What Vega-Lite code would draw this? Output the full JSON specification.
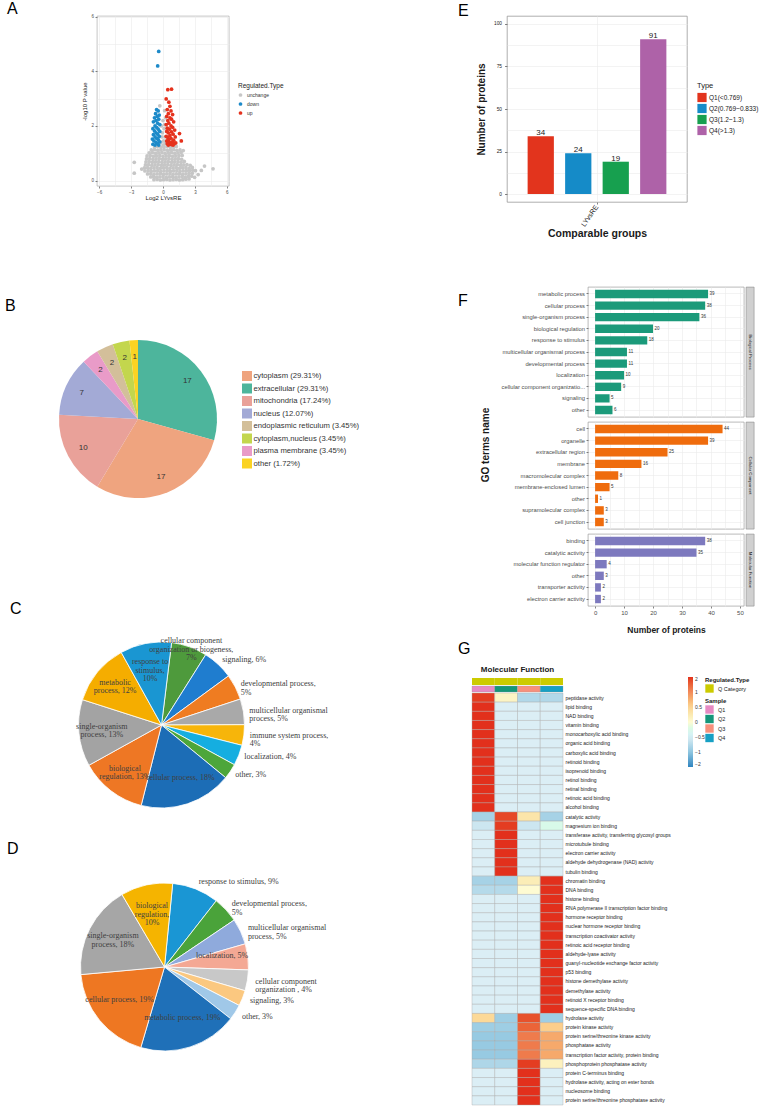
{
"$schema":"https://vega.github.io/schema/vega-lite/v6.json",
"background":"white",
"padding":{"left":5,"top":0,"right":0,"bottom":0},
"datasets":{
"volcano":[
{"x":-0.85,"y":0.03,"t":"unchange"},{"x":-0.55,"y":0.04,"t":"unchange"},{"x":-0.25,"y":0.02,"t":"unchange"},{"x":0.05,"y":0.03,"t":"unchange"},{"x":0.35,"y":0.04,"t":"unchange"},{"x":0.65,"y":0.02,"t":"unchange"},{"x":0.95,"y":0.03,"t":"unchange"},{"x":1.25,"y":0.04,"t":"unchange"},{"x":1.55,"y":0.02,"t":"unchange"},{"x":1.85,"y":0.03,"t":"unchange"},{"x":2.15,"y":0.05,"t":"unchange"},{"x":2.45,"y":0.06,"t":"unchange"},
{"x":-1.15,"y":0.13,"t":"unchange"},{"x":-0.9,"y":0.14,"t":"unchange"},{"x":-0.6,"y":0.12,"t":"unchange"},{"x":-0.3,"y":0.13,"t":"unchange"},{"x":0,"y":0.14,"t":"unchange"},{"x":0.3,"y":0.12,"t":"unchange"},{"x":0.6,"y":0.13,"t":"unchange"},{"x":0.9,"y":0.14,"t":"unchange"},{"x":1.2,"y":0.12,"t":"unchange"},{"x":1.5,"y":0.13,"t":"unchange"},{"x":1.8,"y":0.14,"t":"unchange"},{"x":2.1,"y":0.12,"t":"unchange"},{"x":2.4,"y":0.15,"t":"unchange"},{"x":2.7,"y":0.16,"t":"unchange"},{"x":2.97,"y":0.12,"t":"unchange"},
{"x":-1.45,"y":0.24,"t":"unchange"},{"x":-1.15,"y":0.25,"t":"unchange"},{"x":-0.85,"y":0.23,"t":"unchange"},{"x":-0.55,"y":0.24,"t":"unchange"},{"x":-0.25,"y":0.25,"t":"unchange"},{"x":0.05,"y":0.23,"t":"unchange"},{"x":0.35,"y":0.24,"t":"unchange"},{"x":0.65,"y":0.25,"t":"unchange"},{"x":0.95,"y":0.23,"t":"unchange"},{"x":1.25,"y":0.24,"t":"unchange"},{"x":1.55,"y":0.25,"t":"unchange"},{"x":1.85,"y":0.23,"t":"unchange"},{"x":2.15,"y":0.24,"t":"unchange"},{"x":2.45,"y":0.26,"t":"unchange"},{"x":2.75,"y":0.27,"t":"unchange"},
{"x":-1.7,"y":0.35,"t":"unchange"},{"x":-1.4,"y":0.36,"t":"unchange"},{"x":-1.1,"y":0.34,"t":"unchange"},{"x":-0.8,"y":0.35,"t":"unchange"},{"x":-0.5,"y":0.36,"t":"unchange"},{"x":-0.2,"y":0.34,"t":"unchange"},{"x":0.1,"y":0.35,"t":"unchange"},{"x":0.4,"y":0.36,"t":"unchange"},{"x":0.7,"y":0.34,"t":"unchange"},{"x":1,"y":0.35,"t":"unchange"},{"x":1.3,"y":0.36,"t":"unchange"},{"x":1.6,"y":0.34,"t":"unchange"},{"x":1.9,"y":0.35,"t":"unchange"},{"x":2.2,"y":0.36,"t":"unchange"},{"x":2.5,"y":0.37,"t":"unchange"},{"x":2.8,"y":0.38,"t":"unchange"},{"x":3.05,"y":0.36,"t":"unchange"},
{"x":-1.75,"y":0.46,"t":"unchange"},{"x":-1.45,"y":0.47,"t":"unchange"},{"x":-1.15,"y":0.45,"t":"unchange"},{"x":-0.85,"y":0.46,"t":"unchange"},{"x":-0.55,"y":0.47,"t":"unchange"},{"x":-0.25,"y":0.45,"t":"unchange"},{"x":0.05,"y":0.46,"t":"unchange"},{"x":0.35,"y":0.47,"t":"unchange"},{"x":0.65,"y":0.45,"t":"unchange"},{"x":0.95,"y":0.46,"t":"unchange"},{"x":1.25,"y":0.47,"t":"unchange"},{"x":1.55,"y":0.45,"t":"unchange"},{"x":1.85,"y":0.46,"t":"unchange"},{"x":2.15,"y":0.47,"t":"unchange"},{"x":2.45,"y":0.45,"t":"unchange"},{"x":2.75,"y":0.48,"t":"unchange"},
{"x":-1.65,"y":0.57,"t":"unchange"},{"x":-1.35,"y":0.58,"t":"unchange"},{"x":-1.05,"y":0.56,"t":"unchange"},{"x":-0.75,"y":0.57,"t":"unchange"},{"x":-0.45,"y":0.58,"t":"unchange"},{"x":-0.15,"y":0.56,"t":"unchange"},{"x":0.15,"y":0.57,"t":"unchange"},{"x":0.45,"y":0.58,"t":"unchange"},{"x":0.75,"y":0.56,"t":"unchange"},{"x":1.05,"y":0.57,"t":"unchange"},{"x":1.35,"y":0.58,"t":"unchange"},{"x":1.65,"y":0.56,"t":"unchange"},{"x":1.95,"y":0.57,"t":"unchange"},{"x":2.25,"y":0.58,"t":"unchange"},{"x":2.55,"y":0.56,"t":"unchange"},
{"x":-1.6,"y":0.68,"t":"unchange"},{"x":-1.3,"y":0.69,"t":"unchange"},{"x":-1,"y":0.67,"t":"unchange"},{"x":-0.7,"y":0.68,"t":"unchange"},{"x":-0.4,"y":0.69,"t":"unchange"},{"x":-0.1,"y":0.67,"t":"unchange"},{"x":0.2,"y":0.68,"t":"unchange"},{"x":0.5,"y":0.69,"t":"unchange"},{"x":0.8,"y":0.67,"t":"unchange"},{"x":1.1,"y":0.68,"t":"unchange"},{"x":1.4,"y":0.69,"t":"unchange"},{"x":1.7,"y":0.67,"t":"unchange"},{"x":2,"y":0.7,"t":"unchange"},
{"x":-1.55,"y":0.79,"t":"unchange"},{"x":-1.25,"y":0.8,"t":"unchange"},{"x":-0.95,"y":0.78,"t":"unchange"},{"x":-0.65,"y":0.79,"t":"unchange"},{"x":-0.35,"y":0.8,"t":"unchange"},{"x":-0.05,"y":0.78,"t":"unchange"},{"x":0.25,"y":0.79,"t":"unchange"},{"x":0.55,"y":0.8,"t":"unchange"},{"x":0.85,"y":0.78,"t":"unchange"},{"x":1.15,"y":0.79,"t":"unchange"},{"x":1.45,"y":0.8,"t":"unchange"},{"x":1.75,"y":0.78,"t":"unchange"},
{"x":-1.5,"y":0.9,"t":"unchange"},{"x":-1.2,"y":0.91,"t":"unchange"},{"x":-0.9,"y":0.89,"t":"unchange"},{"x":-0.6,"y":0.9,"t":"unchange"},{"x":-0.3,"y":0.91,"t":"unchange"},{"x":0,"y":0.89,"t":"unchange"},{"x":0.3,"y":0.9,"t":"unchange"},{"x":0.6,"y":0.91,"t":"unchange"},{"x":0.9,"y":0.89,"t":"unchange"},{"x":1.2,"y":0.9,"t":"unchange"},{"x":1.5,"y":0.91,"t":"unchange"},{"x":1.8,"y":0.92,"t":"unchange"},
{"x":-1.3,"y":1.01,"t":"unchange"},{"x":-1,"y":1.02,"t":"unchange"},{"x":-0.7,"y":1,"t":"unchange"},{"x":-0.4,"y":1.01,"t":"unchange"},{"x":-0.1,"y":1.02,"t":"unchange"},{"x":0.2,"y":1,"t":"unchange"},{"x":0.5,"y":1.01,"t":"unchange"},{"x":0.8,"y":1.02,"t":"unchange"},{"x":1.1,"y":1,"t":"unchange"},{"x":1.4,"y":1.01,"t":"unchange"},{"x":1.7,"y":1.03,"t":"unchange"},
{"x":-1.1,"y":1.12,"t":"unchange"},{"x":-0.8,"y":1.13,"t":"unchange"},{"x":-0.5,"y":1.11,"t":"unchange"},{"x":-0.2,"y":1.12,"t":"unchange"},{"x":0.1,"y":1.13,"t":"unchange"},{"x":0.4,"y":1.11,"t":"unchange"},{"x":0.7,"y":1.12,"t":"unchange"},{"x":1,"y":1.13,"t":"unchange"},{"x":1.3,"y":1.11,"t":"unchange"},{"x":1.6,"y":1.12,"t":"unchange"},
{"x":-0.8,"y":1.23,"t":"unchange"},{"x":-0.5,"y":1.24,"t":"unchange"},{"x":-0.2,"y":1.22,"t":"unchange"},{"x":0.1,"y":1.23,"t":"unchange"},{"x":0.4,"y":1.24,"t":"unchange"},{"x":0.7,"y":1.22,"t":"unchange"},{"x":1,"y":1.23,"t":"unchange"},{"x":1.25,"y":1.25,"t":"unchange"},
{"x":-2.7,"y":0.67,"t":"unchange"},{"x":-2.7,"y":0.27,"t":"unchange"},{"x":-2.0,"y":0.42,"t":"unchange"},{"x":3.3,"y":0.22,"t":"unchange"},{"x":3.6,"y":0.37,"t":"unchange"},{"x":3.9,"y":0.53,"t":"unchange"},{"x":4.7,"y":0.43,"t":"unchange"},{"x":1.9,"y":1.1,"t":"unchange"},
{"x":-0.3,"y":2.74,"t":"unchange"},{"x":0.15,"y":2.56,"t":"unchange"},{"x":0,"y":2.2,"t":"unchange"},{"x":0.1,"y":1.9,"t":"unchange"},{"x":-0.1,"y":1.6,"t":"unchange"},{"x":0.05,"y":1.45,"t":"unchange"},{"x":0.2,"y":1.35,"t":"unchange"},{"x":-0.2,"y":1.4,"t":"unchange"},{"x":0.15,"y":2.05,"t":"unchange"},{"x":-0.05,"y":1.75,"t":"unchange"},{"x":0.2,"y":1.6,"t":"unchange"},{"x":0.25,"y":2.3,"t":"unchange"},{"x":-0.15,"y":2.0,"t":"unchange"},{"x":0,"y":1.3,"t":"unchange"},
{"x":-0.4,"y":4.73,"t":"down"},{"x":-0.5,"y":4.2,"t":"down"},
{"x":-0.6,"y":2.6,"t":"down"},{"x":-0.45,"y":2.55,"t":"down"},{"x":-0.7,"y":2.45,"t":"down"},{"x":-0.35,"y":2.4,"t":"down"},{"x":-0.55,"y":2.35,"t":"down"},{"x":-0.8,"y":2.3,"t":"down"},{"x":-0.4,"y":2.25,"t":"down"},{"x":-0.65,"y":2.2,"t":"down"},{"x":-0.9,"y":2.15,"t":"down"},{"x":-0.5,"y":2.1,"t":"down"},{"x":-0.3,"y":2.05,"t":"down"},{"x":-0.75,"y":2.0,"t":"down"},{"x":-0.6,"y":1.95,"t":"down"},{"x":-0.95,"y":1.9,"t":"down"},{"x":-0.45,"y":1.88,"t":"down"},{"x":-0.8,"y":1.82,"t":"down"},{"x":-0.3,"y":1.8,"t":"down"},{"x":-0.65,"y":1.75,"t":"down"},{"x":-0.5,"y":1.7,"t":"down"},{"x":-0.9,"y":1.68,"t":"down"},{"x":-0.35,"y":1.62,"t":"down"},{"x":-0.75,"y":1.6,"t":"down"},{"x":-0.6,"y":1.55,"t":"down"},{"x":-1.0,"y":1.52,"t":"down"},{"x":-0.45,"y":1.5,"t":"down"},{"x":-0.85,"y":1.45,"t":"down"},{"x":-0.3,"y":1.42,"t":"down"},{"x":-0.65,"y":1.4,"t":"down"},{"x":-0.5,"y":1.35,"t":"down"},{"x":-0.95,"y":1.33,"t":"down"},{"x":-0.75,"y":1.3,"t":"down"},{"x":-0.4,"y":1.3,"t":"down"},
{"x":0.45,"y":3.33,"t":"up"},{"x":0.8,"y":3.35,"t":"up"},{"x":0.3,"y":2.99,"t":"up"},{"x":0.55,"y":2.87,"t":"up"},{"x":0.65,"y":2.72,"t":"up"},{"x":0.4,"y":2.6,"t":"up"},{"x":0.75,"y":2.55,"t":"up"},{"x":0.5,"y":2.45,"t":"up"},{"x":0.9,"y":2.42,"t":"up"},{"x":0.35,"y":2.35,"t":"up"},{"x":0.65,"y":2.3,"t":"up"},{"x":0.8,"y":2.25,"t":"up"},{"x":0.45,"y":2.2,"t":"up"},{"x":1.0,"y":2.15,"t":"up"},{"x":0.55,"y":2.1,"t":"up"},{"x":0.3,"y":2.05,"t":"up"},{"x":0.75,"y":2.0,"t":"up"},{"x":0.9,"y":1.95,"t":"up"},{"x":0.4,"y":1.92,"t":"up"},{"x":0.6,"y":1.88,"t":"up"},{"x":1.1,"y":1.85,"t":"up"},{"x":0.35,"y":1.8,"t":"up"},{"x":0.8,"y":1.78,"t":"up"},{"x":0.5,"y":1.75,"t":"up"},{"x":0.95,"y":1.7,"t":"up"},{"x":0.65,"y":1.65,"t":"up"},{"x":0.3,"y":1.62,"t":"up"},{"x":1.15,"y":1.6,"t":"up"},{"x":0.45,"y":1.58,"t":"up"},{"x":0.75,"y":1.55,"t":"up"},{"x":0.55,"y":1.5,"t":"up"},{"x":1.0,"y":1.48,"t":"up"},{"x":0.35,"y":1.45,"t":"up"},{"x":0.85,"y":1.42,"t":"up"},{"x":0.6,"y":1.4,"t":"up"},{"x":1.2,"y":1.38,"t":"up"},{"x":0.4,"y":1.35,"t":"up"},{"x":0.7,"y":1.33,"t":"up"},{"x":0.95,"y":1.3,"t":"up"},{"x":0.5,"y":1.3,"t":"up"},{"x":1.05,"y":1.35,"t":"up"},{"x":0.8,"y":1.32,"t":"up"},{"x":1.55,"y":1.72,"t":"up"},{"x":1.72,"y":1.45,"t":"up"}
],
"loc":[
{"label":"extracellular (29.31%)","n":17},
{"label":"cytoplasm (29.31%)","n":17},
{"label":"mitochondria (17.24%)","n":10},
{"label":"nucleus (12.07%)","n":7},
{"label":"plasma membrane (3.45%)","n":2},
{"label":"endoplasmic reticulum (3.45%)","n":2},
{"label":"cytoplasm,nucleus (3.45%)","n":2},
{"label":"other (1.72%)","n":1}
],
"bpC":[
{"name":"cellular component organization or biogeness","pct":7,"label":"cellular component\norganization or biogeness,\n7%"},
{"name":"signaling","pct":6,"label":"signaling, 6%"},
{"name":"developmental process","pct":5,"label":"developmental process,\n5%"},
{"name":"multicellular organismal process","pct":5,"label":"multicellular organismal\nprocess, 5%"},
{"name":"immune system process","pct":4,"label":"immune system process,\n4%"},
{"name":"localization","pct":4,"label":"localization, 4%"},
{"name":"other","pct":3,"label":"other, 3%"},
{"name":"cellular process","pct":18,"label":"cellular process, 18%"},
{"name":"biological regulation","pct":13,"label":"biological\nregulation, 13%"},
{"name":"single-organism process","pct":13,"label":"single-organism\nprocess, 13%"},
{"name":"metabolic process","pct":12,"label":"metabolic\nprocess, 12%"},
{"name":"response to stimulus","pct":10,"label":"response to\nstimulus,\n10%"}
],
"bpD":[
{"name":"response to stimulus","pct":9,"label":"response to stimulus, 9%"},
{"name":"developmental process","pct":5,"label":"developmental process,\n5%"},
{"name":"multicellular organismal process","pct":5,"label":"multicellular organismal\nprocess, 5%"},
{"name":"localization","pct":5,"label":"localization, 5%"},
{"name":"cellular component organization","pct":4,"label":"cellular component\norganization , 4%"},
{"name":"signaling","pct":3,"label":"signaling, 3%"},
{"name":"other","pct":3,"label":"other, 3%"},
{"name":"metabolic process","pct":19,"label":"metabolic process, 19%"},
{"name":"cellular process","pct":19,"label":"cellular process, 19%"},
{"name":"single-organism process","pct":18,"label":"single-organism\nprocess, 18%"},
{"name":"biological regulation","pct":10,"label":"biological\nregulation,\n10%"}
],
"counts":[
{"group":"LYvsRE","Type":"Q1(<0.769)","n":34},
{"group":"LYvsRE","Type":"Q2(0.769~0.833)","n":24},
{"group":"LYvsRE","Type":"Q3(1.2~1.3)","n":19},
{"group":"LYvsRE","Type":"Q4(>1.3)","n":91}
],
"go":[
{"cat":"BP","term":"metabolic process","n":39},
{"cat":"BP","term":"cellular process","n":38},
{"cat":"BP","term":"single-organism process","n":36},
{"cat":"BP","term":"biological regulation","n":20},
{"cat":"BP","term":"response to stimulus","n":18},
{"cat":"BP","term":"multicellular organismal process","n":11},
{"cat":"BP","term":"developmental process","n":11},
{"cat":"BP","term":"localization","n":10},
{"cat":"BP","term":"cellular component organizatio...","n":9},
{"cat":"BP","term":"signaling","n":5},
{"cat":"BP","term":"other","n":6},
{"cat":"CC","term":"cell","n":44},
{"cat":"CC","term":"organelle","n":39},
{"cat":"CC","term":"extracellular region","n":25},
{"cat":"CC","term":"membrane","n":16},
{"cat":"CC","term":"macromolecular complex","n":8},
{"cat":"CC","term":"membrane-enclosed lumen","n":5},
{"cat":"CC","term":"other","n":1},
{"cat":"CC","term":"supramolecular complex","n":3},
{"cat":"CC","term":"cell junction","n":3},
{"cat":"MF","term":"binding","n":38},
{"cat":"MF","term":"catalytic activity","n":35},
{"cat":"MF","term":"molecular function regulator","n":4},
{"cat":"MF","term":"other","n":3},
{"cat":"MF","term":"transporter activity","n":2},
{"cat":"MF","term":"electron carrier activity","n":2}
],
"heat":[
{"term":"peptidase activity","Q1":1.45,"Q2":0.1,"Q3":-0.78,"Q4":-0.78},
{"term":"lipid binding","Q1":1.5,"Q2":-0.5,"Q3":-0.5,"Q4":-0.5},
{"term":"NAD binding","Q1":1.5,"Q2":-0.5,"Q3":-0.5,"Q4":-0.5},
{"term":"vitamin binding","Q1":1.5,"Q2":-0.5,"Q3":-0.5,"Q4":-0.5},
{"term":"monocarboxylic acid binding","Q1":1.5,"Q2":-0.5,"Q3":-0.5,"Q4":-0.5},
{"term":"organic acid binding","Q1":1.5,"Q2":-0.5,"Q3":-0.5,"Q4":-0.5},
{"term":"carboxylic acid binding","Q1":1.5,"Q2":-0.5,"Q3":-0.5,"Q4":-0.5},
{"term":"retinoid binding","Q1":1.5,"Q2":-0.5,"Q3":-0.5,"Q4":-0.5},
{"term":"isoprenoid binding","Q1":1.5,"Q2":-0.5,"Q3":-0.5,"Q4":-0.5},
{"term":"retinol binding","Q1":1.5,"Q2":-0.5,"Q3":-0.5,"Q4":-0.5},
{"term":"retinal binding","Q1":1.5,"Q2":-0.5,"Q3":-0.5,"Q4":-0.5},
{"term":"retinoic acid binding","Q1":1.5,"Q2":-0.5,"Q3":-0.5,"Q4":-0.5},
{"term":"alcohol binding","Q1":1.5,"Q2":-0.5,"Q3":-0.5,"Q4":-0.5},
{"term":"catalytic activity","Q1":-0.85,"Q2":1.4,"Q3":0.3,"Q4":-0.85},
{"term":"magnesium ion binding","Q1":-0.6,"Q2":1.45,"Q3":-0.6,"Q4":-0.25},
{"term":"transferase activity, transferring glycosyl groups","Q1":-0.5,"Q2":1.5,"Q3":-0.5,"Q4":-0.5},
{"term":"microtubule binding","Q1":-0.5,"Q2":1.5,"Q3":-0.5,"Q4":-0.5},
{"term":"electron carrier activity","Q1":-0.5,"Q2":1.5,"Q3":-0.5,"Q4":-0.5},
{"term":"aldehyde dehydrogenase (NAD) activity","Q1":-0.5,"Q2":1.5,"Q3":-0.5,"Q4":-0.5},
{"term":"tubulin binding","Q1":-0.5,"Q2":1.5,"Q3":-0.5,"Q4":-0.5},
{"term":"chromatin binding","Q1":-0.85,"Q2":-0.85,"Q3":0.2,"Q4":1.5},
{"term":"DNA binding","Q1":-0.75,"Q2":-0.75,"Q3":0.0,"Q4":1.5},
{"term":"histone binding","Q1":-0.5,"Q2":-0.5,"Q3":-0.5,"Q4":1.5},
{"term":"RNA polymerase II transcription factor binding","Q1":-0.5,"Q2":-0.5,"Q3":-0.5,"Q4":1.5},
{"term":"hormone receptor binding","Q1":-0.5,"Q2":-0.5,"Q3":-0.5,"Q4":1.5},
{"term":"nuclear hormone receptor binding","Q1":-0.5,"Q2":-0.5,"Q3":-0.5,"Q4":1.5},
{"term":"transcription coactivator activity","Q1":-0.5,"Q2":-0.5,"Q3":-0.5,"Q4":1.5},
{"term":"retinoic acid receptor binding","Q1":-0.5,"Q2":-0.5,"Q3":-0.5,"Q4":1.5},
{"term":"aldehyde-lyase activity","Q1":-0.5,"Q2":-0.5,"Q3":-0.5,"Q4":1.5},
{"term":"guanyl-nucleotide exchange factor activity","Q1":-0.5,"Q2":-0.5,"Q3":-0.5,"Q4":1.5},
{"term":"p53 binding","Q1":-0.5,"Q2":-0.5,"Q3":-0.5,"Q4":1.5},
{"term":"histone demethylase activity","Q1":-0.5,"Q2":-0.5,"Q3":-0.5,"Q4":1.5},
{"term":"demethylase activity","Q1":-0.5,"Q2":-0.5,"Q3":-0.5,"Q4":1.5},
{"term":"retinoid X receptor binding","Q1":-0.5,"Q2":-0.5,"Q3":-0.5,"Q4":1.5},
{"term":"sequence-specific DNA binding","Q1":-0.5,"Q2":-0.5,"Q3":-0.5,"Q4":1.5},
{"term":"hydrolase activity","Q1":0.45,"Q2":-0.9,"Q3":1.35,"Q4":-0.9},
{"term":"protein kinase activity","Q1":-0.9,"Q2":-0.9,"Q3":1.25,"Q4":0.55},
{"term":"protein serine/threonine kinase activity","Q1":-0.95,"Q2":-0.95,"Q3":1.1,"Q4":0.8},
{"term":"phosphatase activity","Q1":-0.95,"Q2":-0.95,"Q3":1.1,"Q4":0.8},
{"term":"transcription factor activity, protein binding","Q1":-0.95,"Q2":-0.95,"Q3":1.1,"Q4":0.8},
{"term":"phosphoprotein phosphatase activity","Q1":-0.8,"Q2":-0.8,"Q3":1.45,"Q4":0.15},
{"term":"protein C-terminus binding","Q1":-0.5,"Q2":-0.5,"Q3":1.5,"Q4":-0.5},
{"term":"hydrolase activity, acting on ester bonds","Q1":-0.5,"Q2":-0.5,"Q3":1.5,"Q4":-0.5},
{"term":"nucleosome binding","Q1":-0.5,"Q2":-0.5,"Q3":1.5,"Q4":-0.5},
{"term":"protein serine/threonine phosphatase activity","Q1":-0.5,"Q2":-0.5,"Q3":1.5,"Q4":-0.5}
]
},
"hconcat":[
{
"concat":[
{
"concat":[
{
"title":{"text":"A","dx":-90,"offset":-3},
"width":132,"height":170,
"view":{"stroke":"#a0a0a0","strokeWidth":0.6},
"data":{"name":"volcano"},
"mark":{"type":"circle","size":14,"opacity":1},
"encoding":{
"x":{"field":"x","type":"quantitative","title":"Log2 LYvsRE","scale":{"domain":[-6.2,6.2],"nice":false,"zero":false},
"axis":{"values":[-6,-4.5,-3,-1.5,0,1.5,3,4.5,6],"labelExpr":"datum.value % 3 == 0 ? datum.label : ''","tickOpacity":{"condition":{"test":"datum.value % 3 != 0","value":0},"value":1},"grid":true,"labelFontSize":4.5,"titleFontSize":6,"titlePadding":0.5}},
"y":{"field":"y","type":"quantitative","title":"-log10 P value","scale":{"domain":[-0.2,6.03],"nice":false,"zero":false},
"axis":{"values":[0,1,2,3,4,5,6],"labelExpr":"datum.value % 2 == 0 ? datum.label : ''","tickOpacity":{"condition":{"test":"datum.value % 2 != 0","value":0},"value":1},"grid":true,"labelFontSize":4.5,"titleFontSize":6,"titlePadding":3}},
"color":{"field":"t","type":"nominal","scale":{"domain":["unchange","down","up"],"range":["#c6c6c6","#1d8ac9","#e5321d"]},
"legend":{"title":"Regulated.Type","orient":"none","legendX":141,"legendY":67,"titleFontSize":6.5,"titleFontWeight":"normal","titleColor":"#1a1a1a","labelFontSize":5,"labelColor":"#333333","symbolType":"circle","symbolSize":14,"rowPadding":3,"titlePadding":3,"symbolStrokeWidth":0}}
}
},
{
"title":{"text":"B","dx":-92,"offset":21},
"width":82,"height":168,
"data":{"name":"loc"},
"transform":[{"window":[{"op":"row_number","as":"idx"}]}],
"encoding":{
"theta":{"field":"n","type":"quantitative","stack":true},
"order":{"field":"idx","type":"quantitative"},
"detail":{"field":"label","type":"nominal"}
},
"layer":[
{"mark":{"type":"arc","outerRadius":79},
"encoding":{"color":{"field":"label","type":"nominal",
"scale":{"domain":["cytoplasm (29.31%)","extracellular (29.31%)","mitochondria (17.24%)","nucleus (12.07%)","endoplasmic reticulum (3.45%)","cytoplasm,nucleus (3.45%)","plasma membrane (3.45%)","other (1.72%)"],
"range":["#efa47f","#4db59c","#e9a199","#a3aad6","#d3bf9a","#c3d64d","#e99bc8","#fbd323"]},
"legend":{"title":null,"orient":"none","legendX":145,"legendY":36,"symbolType":"square","symbolSize":100,"symbolStrokeWidth":0,"labelFontSize":7.7,"labelColor":"#333333","rowPadding":2.5,"labelOffset":1.5}}}},
{"mark":{"type":"text","radius":62,"fontSize":8,"color":"#333333"},
"encoding":{"text":{"field":"n","type":"quantitative"}}}
]
},
{
"title":{"text":"C","dx":-87,"offset":17},
"width":129,"height":166,
"data":{"name":"bpC"},
"transform":[{"window":[{"op":"row_number","as":"idx"}]}],
"encoding":{
"theta":{"field":"pct","type":"quantitative","stack":true,"scale":{"range":[0.122,6.405]}},
"order":{"field":"idx","type":"quantitative"},
"detail":{"field":"name","type":"nominal"}
},
"layer":[
{"mark":{"type":"arc","outerRadius":83,"stroke":"#ffffff","strokeWidth":0.8},
"encoding":{"color":{"field":"name","type":"nominal","legend":null,
"scale":{"domain":["cellular component organization or biogeness","signaling","developmental process","multicellular organismal process","immune system process","localization","other","cellular process","biological regulation","single-organism process","metabolic process","response to stimulus"],
"range":["#4e9a3c","#1f7dcf","#ef7c21","#a9a9a9","#f7b50a","#15aee0","#4da63a","#1c6db6","#ee7724","#a3a3a3","#f5ad00","#1a96d2"]}}}},
{"mark":{"type":"text","radius":60,"dy":-4,"font":"Liberation Serif","fontSize":8,"lineHeight":8.5,"lineBreak":"\n","color":"#404040"},
"encoding":{"text":{"field":"label","type":"nominal","condition":{"test":"datum.pct < 10","value":""}}}},
{"mark":{"type":"text","radius":89,"align":"left","font":"Liberation Serif","fontSize":8,"lineHeight":8.5,"lineBreak":"\n","color":"#404040"},
"encoding":{"text":{"field":"label","type":"nominal","condition":{"test":"datum.pct >= 7","value":""}}}},
{"mark":{"type":"text","radius":89,"font":"Liberation Serif","fontSize":8,"lineHeight":8.5,"lineBreak":"\n","color":"#404040"},
"encoding":{"text":{"field":"label","type":"nominal","condition":{"test":"datum.pct != 7","value":""}}}}
]
}
],
"columns":1,"align":"none","spacing":97,
"resolve":{"scale":{"color":"independent","theta":"independent"},"legend":{"color":"independent"}}
},
{
"title":{"text":"D","dx":-90,"offset":16},
"width":135,"height":168,
"data":{"name":"bpD"},
"transform":[{"window":[{"op":"row_number","as":"idx"}]}],
"encoding":{
"theta":{"field":"pct","type":"quantitative","stack":true,"scale":{"range":[0.098,6.381]}},
"order":{"field":"idx","type":"quantitative"},
"detail":{"field":"name","type":"nominal"}
},
"layer":[
{"mark":{"type":"arc","outerRadius":84,"stroke":"#ffffff","strokeWidth":0.8},
"encoding":{"color":{"field":"name","type":"nominal","legend":null,
"scale":{"domain":["response to stimulus","developmental process","multicellular organismal process","localization","cellular component organization","signaling","other","metabolic process","cellular process","single-organism process","biological regulation"],
"range":["#1a96d4","#4aa33a","#8faadc","#f4a894","#c8c8c8","#fbc880","#a0c8e8","#1f70b8","#ee7722","#a6a6a6","#f5b400"]}}}},
{"mark":{"type":"text","radius":58,"dy":-4,"font":"Liberation Serif","fontSize":8,"lineHeight":8.5,"lineBreak":"\n","color":"#404040"},
"encoding":{"text":{"field":"label","type":"nominal","condition":{"test":"datum.pct < 10 && datum.name != 'localization'","value":""}}}},
{"mark":{"type":"text","radius":92,"align":"left","font":"Liberation Serif","fontSize":8,"lineHeight":8.5,"lineBreak":"\n","color":"#404040"},
"encoding":{"text":{"field":"label","type":"nominal","condition":{"test":"datum.pct >= 10 || datum.name == 'localization'","value":""}}}}
]
}
],
"columns":1,"align":"none","spacing":27,
"resolve":{"scale":{"color":"independent","theta":"independent"},"legend":{"color":"independent"}}
},
{
"concat":[
{
"hconcat":[
{"title":{"text":"E","dx":-14,"offset":-3},"width":4,"height":1,"view":{"fill":"transparent","stroke":null},"data":{"values":[]},"mark":{"type":"point"},"encoding":{}},
{
"width":180,"height":186,
"view":{"stroke":"#8c8c8c","strokeWidth":0.7},
"data":{"name":"counts"},
"encoding":{
"x":{"field":"group","type":"nominal","title":"Comparable groups","scale":{"paddingInner":0,"paddingOuter":0.1},
"axis":{"labelAngle":-55,"labelFontSize":7,"labelColor":"#1a1a1a","grid":true,"bandPosition":0.5,"titleFontSize":10.5,"titleFontWeight":"bold","titlePadding":1}},
"xOffset":{"field":"Type","type":"nominal","scale":{"paddingInner":0.3,"paddingOuter":0.15}},
"y":{"field":"n","type":"quantitative","title":"Number of proteins","scale":{"domain":[-4.7,104.7],"nice":false,"zero":false},
"axis":{"values":[0,12.5,25,37.5,50,62.5,75,87.5,100],"labelExpr":"datum.value % 25 == 0 ? datum.label : ''","tickOpacity":{"condition":{"test":"datum.value % 25 != 0","value":0},"value":1},"grid":true,"labelFontSize":4.8,"labelColor":"#1a1a1a","labelPadding":3,"tickSize":2.5,"titleFontSize":10,"titleFontWeight":"bold","titlePadding":7}}
},
"layer":[
{"mark":{"type":"bar"},
"encoding":{"color":{"field":"Type","type":"nominal","scale":{"domain":["Q1(<0.769)","Q2(0.769~0.833)","Q3(1.2~1.3)","Q4(>1.3)"],"range":["#e2341d","#158bc8","#17a04f","#ae62a8"]},
"legend":{"title":"Type","orient":"none","legendX":190,"legendY":66,"titleFontSize":7.5,"titleFontWeight":"normal","titleColor":"#1a1a1a","labelFontSize":6.5,"labelColor":"#1a1a1a","symbolType":"square","symbolSize":85,"symbolStrokeWidth":0,"rowPadding":1,"titlePadding":3,"labelOffset":2}}}},
{"mark":{"type":"text","baseline":"alphabetic","dy":-1,"fontSize":8,"color":"#222222"},
"encoding":{"text":{"field":"n","type":"quantitative"}}}
]
}
],
"spacing":0,
"resolve":{"scale":{"color":"independent"},"legend":{"color":"independent"}}
},
{
"concat":[
{
"hconcat":[
{"title":{"text":"F","dx":-14,"offset":-22},"width":8,"height":1,"view":{"fill":"transparent","stroke":null},"data":{"values":[]},"mark":{"type":"point"},"encoding":{}},
{"title":{"text":"GO terms name","orient":"left","anchor":"middle","fontSize":10,"fontWeight":"bold","offset":2,"color":"#1a1a1a"},"width":7,"height":316,"view":{"fill":"transparent","stroke":null},"data":{"values":[]},"mark":{"type":"point"},"encoding":{}},
{
"vconcat":[
{
"width":156,"height":130,
"view":{"stroke":"#8c8c8c","strokeWidth":0.6},
"data":{"name":"go"},
"transform":[{"filter":"datum.cat == 'BP'"}],
"encoding":{
"y":{"field":"term","type":"nominal","sort":null,"scale":{"paddingInner":0.28,"paddingOuter":0.24},
"axis":{"title":null,"labelFontSize":5.8,"labelColor":"#4d4d4d","grid":true,"bandPosition":0.5,"labelLimit":200}},
"x":{"field":"n","type":"quantitative","scale":{"domain":[-2.45,51.4],"nice":false,"zero":false},
"axis":{"values":[0,5,10,15,20,25,30,35,40,45,50],"labels":false,"ticks":false,"title":null,"grid":true}}
},
"layer":[
{"mark":{"type":"bar","color":"#1b9a7a"}},
{"mark":{"type":"text","align":"left","dx":1.5,"fontSize":4.5,"color":"#333333"},"encoding":{"text":{"field":"n","type":"quantitative"}}}
]
},
{
"width":156,"height":107,
"view":{"stroke":"#8c8c8c","strokeWidth":0.6},
"data":{"name":"go"},
"transform":[{"filter":"datum.cat == 'CC'"}],
"encoding":{
"y":{"field":"term","type":"nominal","sort":null,"scale":{"paddingInner":0.28,"paddingOuter":0.24},
"axis":{"title":null,"labelFontSize":5.8,"labelColor":"#4d4d4d","grid":true,"bandPosition":0.5,"labelLimit":200}},
"x":{"field":"n","type":"quantitative","scale":{"domain":[-2.45,51.4],"nice":false,"zero":false},
"axis":{"values":[0,5,10,15,20,25,30,35,40,45,50],"labels":false,"ticks":false,"title":null,"grid":true}}
},
"layer":[
{"mark":{"type":"bar","color":"#ef6c0d"}},
{"mark":{"type":"text","align":"left","dx":1.5,"fontSize":4.5,"color":"#333333"},"encoding":{"text":{"field":"n","type":"quantitative"}}}
]
},
{
"width":156,"height":72,
"view":{"stroke":"#8c8c8c","strokeWidth":0.6},
"data":{"name":"go"},
"transform":[{"filter":"datum.cat == 'MF'"}],
"encoding":{
"y":{"field":"term","type":"nominal","sort":null,"scale":{"paddingInner":0.28,"paddingOuter":0.24},
"axis":{"title":null,"labelFontSize":5.8,"labelColor":"#4d4d4d","grid":true,"bandPosition":0.5,"labelLimit":200}},
"x":{"field":"n","type":"quantitative","title":"Number of proteins","scale":{"domain":[-2.45,51.4],"nice":false,"zero":false},
"axis":{"values":[0,5,10,15,20,25,30,35,40,45,50],"labelExpr":"datum.value % 10 == 0 ? datum.label : ''","tickOpacity":{"condition":{"test":"datum.value % 10 != 0","value":0},"value":1},"grid":true,"labelFontSize":6,"titleFontSize":8.5,"titleFontWeight":"bold","titlePadding":10}}
},
"layer":[
{"mark":{"type":"bar","color":"#7d79be"}},
{"mark":{"type":"text","align":"left","dx":1.5,"fontSize":4.5,"color":"#333333"},"encoding":{"text":{"field":"n","type":"quantitative"}}}
]
}
],
"spacing":3
},
{
"vconcat":[
{"width":8,"height":130,"view":{"fill":"#d0d0d0","stroke":"#8c8c8c","strokeWidth":0.6},"data":{"values":[{"s":"Biological Process"}]},"mark":{"type":"text","angle":90,"fontSize":4.3,"color":"#1a1a1a"},"encoding":{"text":{"field":"s","type":"nominal"}}},
{"width":8,"height":107,"view":{"fill":"#d0d0d0","stroke":"#8c8c8c","strokeWidth":0.6},"data":{"values":[{"s":"Cellular Component"}]},"mark":{"type":"text","angle":90,"fontSize":4.3,"color":"#1a1a1a"},"encoding":{"text":{"field":"s","type":"nominal"}}},
{"width":8,"height":72,"view":{"fill":"#d0d0d0","stroke":"#8c8c8c","strokeWidth":0.6},"data":{"values":[{"s":"Molecular Function"}]},"mark":{"type":"text","angle":90,"fontSize":4.3,"color":"#1a1a1a"},"encoding":{"text":{"field":"s","type":"nominal"}}}
],
"spacing":3
}
],
"spacing":0
},
{
"title":{"text":"G","dx":-14,"offset":9},
"vconcat":[
{
"title":{"text":"Molecular Function","anchor":"middle","fontSize":8,"fontWeight":"bold","offset":3,"color":"#1a1a1a","dx":0},
"width":91,"height":7,
"data":{"values":[{"s":"Q1","rt":"Q Category"},{"s":"Q2","rt":"Q Category"},{"s":"Q3","rt":"Q Category"},{"s":"Q4","rt":"Q Category"}]},
"mark":{"type":"rect"},
"encoding":{
"x":{"field":"s","type":"nominal","axis":null,"scale":{"paddingInner":0,"paddingOuter":0}},
"color":{"field":"rt","type":"nominal","scale":{"range":["#cccb00"]},
"legend":{"title":"Regulated.Type","orient":"none","legendX":233,"legendY":-1,"titleFontSize":6,"titleFontWeight":"bold","titleColor":"#1a1a1a","labelFontSize":5.5,"labelColor":"#1a1a1a","symbolType":"square","symbolSize":70,"symbolStrokeWidth":0,"titlePadding":1,"rowPadding":0.5}}
}
},
{
"width":91,"height":6,
"data":{"values":[{"s":"Q1"},{"s":"Q2"},{"s":"Q3"},{"s":"Q4"}]},
"mark":{"type":"rect","stroke":"#9a9a9a","strokeWidth":0.3},
"encoding":{
"x":{"field":"s","type":"nominal","axis":null,"scale":{"paddingInner":0,"paddingOuter":0}},
"color":{"field":"s","type":"nominal","scale":{"domain":["Q1","Q2","Q3","Q4"],"range":["#e68ac3","#15967a","#f7907c","#17a0c4"]},
"legend":{"title":"Sample","orient":"none","legendX":233,"legendY":12,"titleFontSize":6,"titleFontWeight":"bold","titleColor":"#1a1a1a","labelFontSize":5.5,"labelColor":"#1a1a1a","symbolType":"square","symbolSize":70,"symbolStrokeWidth":0,"titlePadding":1,"rowPadding":0.5}}
}
},
{
"width":91,"height":412,
"data":{"name":"heat"},
"transform":[{"fold":["Q1","Q2","Q3","Q4"],"as":["sample","z"]}],
"mark":{"type":"rect","stroke":"#a9a9a9","strokeWidth":0.4},
"encoding":{
"x":{"field":"sample","type":"nominal","axis":null,"scale":{"paddingInner":0,"paddingOuter":0}},
"y":{"field":"term","type":"nominal","sort":null,"scale":{"paddingInner":0,"paddingOuter":0},
"axis":{"orient":"right","title":null,"ticks":false,"domain":false,"labelFontSize":5,"labelColor":"#1a1a1a","labelPadding":2,"labelLimit":300}},
"color":{"field":"z","type":"quantitative",
"scale":{"domain":[-1.5,-1,-0.5,0,0.5,1,1.5],"range":["#2f85c0","#8fc6e0","#dbeef5","#fefbd2","#fdd592","#f28a5a","#e2301c"]},
"legend":{"title":null,"orient":"none","legendX":216,"legendY":-16,"direction":"vertical","gradientLength":90,"gradientThickness":5,"gradientStrokeWidth":0,"labelFontSize":5,"labelColor":"#333333","values":[-1.5,-1,-0.5,0,0.5,1,1.5],"format":"~g","labelOffset":2}}
}
}
],
"spacing":1,
"bounds":"flush",
"resolve":{"scale":{"color":"independent"},"legend":{"color":"independent"}}
}
],
"columns":1,"align":"none","spacing":6,
"resolve":{"scale":{"color":"independent"},"legend":{"color":"independent"}}
}
],
"columns":1,"align":"none","spacing":46,
"resolve":{"scale":{"color":"independent","xOffset":"independent"},"legend":{"color":"independent"}}
}
],
"spacing":98,
"resolve":{"scale":{"color":"independent","theta":"independent","xOffset":"independent"},"legend":{"color":"independent"}},
"config":{
"font":"Liberation Sans",
"view":{"stroke":null},
"axis":{"labelFont":"Liberation Sans","titleFont":"Liberation Sans","labelColor":"#4d4d4d","titleColor":"#1a1a1a","tickColor":"#333333","tickSize":2,"tickWidth":0.6,"domain":false,"gridColor":"#ebebeb","gridWidth":0.6,"labelFontSize":5,"titleFontWeight":"normal","labelPadding":1.5},
"legend":{"labelFont":"Liberation Sans","titleFont":"Liberation Sans"},
"title":{"font":"Liberation Sans","fontWeight":"normal","fontSize":16,"anchor":"start","frame":"group","color":"#000000","baseline":"alphabetic"}
}
}
